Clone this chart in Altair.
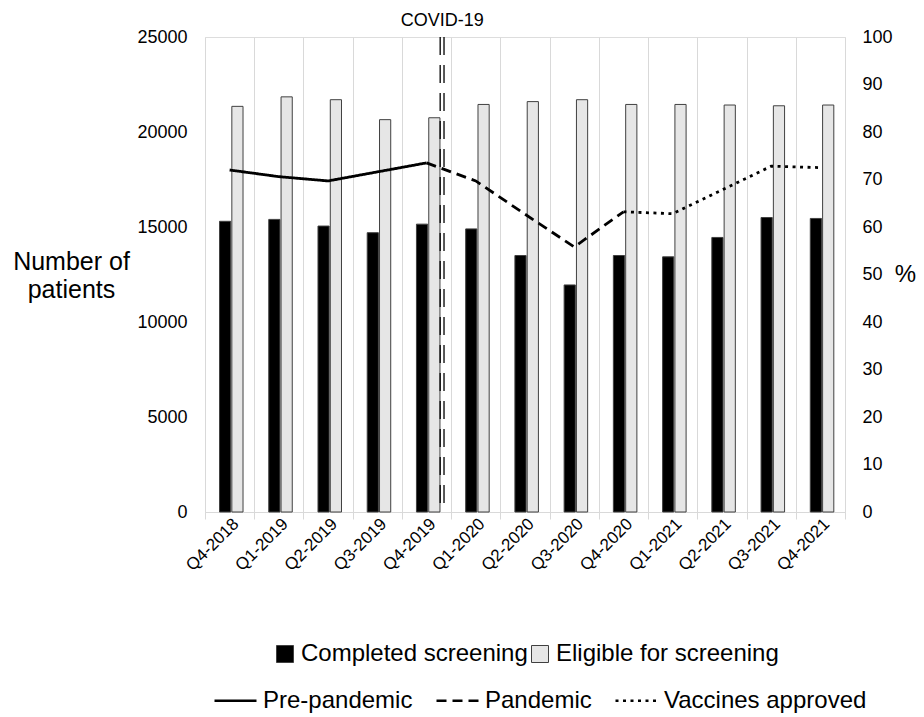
import altair as alt
import pandas as pd

quarters = ["Q4-2018", "Q1-2019", "Q2-2019", "Q3-2019", "Q4-2019", "Q1-2020", "Q2-2020",
            "Q3-2020", "Q4-2020", "Q1-2021", "Q2-2021", "Q3-2021", "Q4-2021"]
completed = [15300, 15400, 15050, 14700, 15150, 14900, 13500, 11950, 13500, 13430, 14450, 15500, 15450]
eligible = [21350, 21850, 21700, 20650, 20750, 21450, 21600, 21700, 21450, 21450, 21420, 21380, 21420]
percent = [72.0, 70.6, 69.7, 71.6, 73.5, 69.7, 62.7, 55.8, 63.2, 62.8, 67.8, 72.8, 72.5]

series_names = ["Completed screening", "Eligible for screening"]
period_names = ["Pre-pandemic", "Pandemic", "Vaccines approved"]
period_ranges = [(0, 4), (4, 8), (8, 12)]
covid_quarter = ["Q4-2019"]
covid_label = ["COVID-19"]

FONT = "Liberation Sans"

bars_df = pd.DataFrame({
    "q": quarters * 2,
    "series": [series_names[0]] * len(quarters) + [series_names[1]] * len(quarters),
    "value": completed + eligible,
})

rows = []
for name, (a, b) in zip(period_names, period_ranges):
    for i in range(a, b + 1):
        rows.append({"q": quarters[i], "period": name, "pct": percent[i]})
line_df = pd.DataFrame(rows)

covid_df = pd.DataFrame({"q": covid_quarter, "label": covid_label})

x_axis = alt.Axis(
    title=None, labelAngle=315, labelFontSize=17, labelColor="black", labelFont=FONT,
    labelAlign="right", labelBaseline="middle", labelPadding=2, labelOffset=6,
    tickBand="extent", grid=True, gridColor="#d9d9d9", gridWidth=1,
    domainColor="#d9d9d9", tickColor="#d9d9d9", tickSize=7,
)
x_scale = alt.Scale(paddingInner=0, paddingOuter=0)

bars = alt.Chart(bars_df).mark_bar(stroke="#404040", strokeWidth=1,
                                   width=alt.RelativeBandSize(0.91)).encode(
    x=alt.X("q:N", sort=quarters, scale=x_scale, axis=x_axis),
    xOffset=alt.XOffset("series:N", sort=series_names,
                        scale=alt.Scale(paddingInner=0, paddingOuter=1)),
    y=alt.Y("value:Q", scale=alt.Scale(domain=[0, 25000], nice=False),
            axis=alt.Axis(orient="left", values=[0, 5000, 10000, 15000, 20000, 25000],
                          domain=False, ticks=False, grid=False, format="d",
                          labelFontSize=18, labelFont=FONT, labelColor="black", labelPadding=18,
                          title=["Number of", "patients"], titleAngle=0, titleFontSize=25,
                          titleFont=FONT, titleFontWeight="normal", titleColor="black",
                          titleX=-134, titleY=224, titleAlign="center", titleBaseline="middle",
                          titleLineHeight=28)),
    fill=alt.Fill("series:N", sort=series_names,
                  scale=alt.Scale(domain=series_names, range=["#000000", "#e6e6e6"]),
                  legend=alt.Legend(title=None, orient="none", direction="horizontal",
                                    legendX=68, legendY=605, symbolType="square",
                                    symbolSize=289, symbolStrokeColor="#404040",
                                    symbolStrokeWidth=1, labelFontSize=24, labelFont=FONT,
                                    labelColor="black", labelOffset=4, columnPadding=0,
                                    labelLimit=0, padding=0)),
)

covid_rule1 = alt.Chart(covid_df).mark_rule(color="black", strokeWidth=1.3, strokeDash=[18, 10]).encode(
    x=alt.X("q:N", sort=quarters, bandPosition=0.777, title=None),
    y=alt.datum(25000), y2=alt.datum(0),
)
covid_rule2 = alt.Chart(covid_df).mark_rule(color="black", strokeWidth=1.3, strokeDash=[18, 10]).encode(
    x=alt.X("q:N", sort=quarters, bandPosition=0.855, title=None),
    y=alt.datum(25000), y2=alt.datum(0),
)
covid_text = alt.Chart(covid_df).mark_text(fontSize=18, font=FONT, color="black",
                                           baseline="middle", align="center", dy=-16).encode(
    x=alt.X("q:N", sort=quarters, bandPosition=0.82, title=None),
    y=alt.datum(25000),
    text="label:N",
)

left = alt.layer(bars, covid_rule1, covid_rule2, covid_text)

line = alt.Chart(line_df).mark_line(color="black", strokeWidth=2.8).encode(
    x=alt.X("q:N", sort=quarters, scale=x_scale, axis=x_axis),
    y=alt.Y("pct:Q", scale=alt.Scale(domain=[0, 100], nice=False),
            axis=alt.Axis(orient="right", values=list(range(0, 101, 10)),
                          domain=False, ticks=False, grid=False,
                          labelFontSize=18, labelFont=FONT, labelColor="black", labelPadding=17,
                          title="%", titleAngle=0, titleFontSize=24, titleFont=FONT,
                          titleFontWeight="normal", titleColor="black",
                          titleX=60, titleY=237, titleAlign="center", titleBaseline="middle")),
    strokeDash=alt.StrokeDash("period:N", sort=period_names,
                              scale=alt.Scale(domain=period_names,
                                              range=[[1, 0], [10, 6], [3, 4.5]]),
                              legend=alt.Legend(title=None, orient="none", direction="horizontal",
                                                legendX=8, legendY=641, symbolType="stroke",
                                                symbolSize=1764, symbolStrokeColor="black",
                                                symbolStrokeWidth=2.5, labelFontSize=24,
                                                labelFont=FONT, labelColor="black", labelOffset=5,
                                                columnPadding=18, labelLimit=0, padding=0)),
    detail="period:N",
)

chart = alt.layer(left, line).resolve_scale(y="independent").properties(
    width=640, height=475,
    padding={"left": 197, "top": 29, "right": 71, "bottom": 205},
    autosize=alt.AutoSizeParams(type="none"),
).configure_view(stroke=None).configure(font=FONT)

chart.save("out.html", embed_options={"renderer": "svg", "actions": False})
